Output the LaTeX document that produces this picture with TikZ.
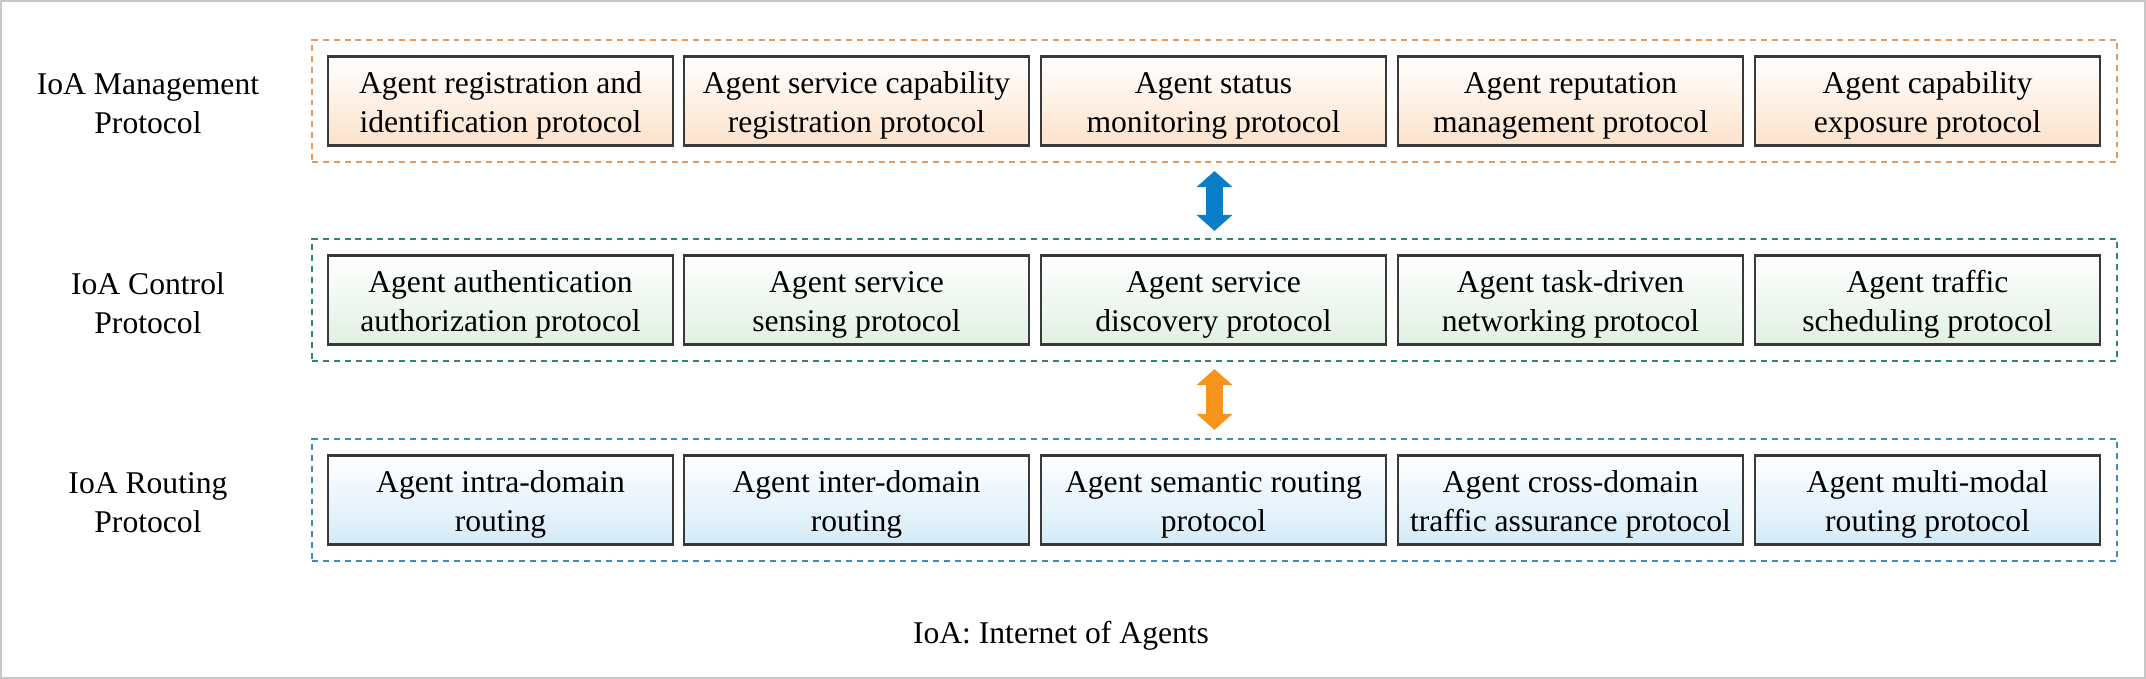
\documentclass[tikz,border=0pt]{standalone}
\usepackage{fontspec}
\setmainfont{Liberation Serif}
\usepackage{xcolor}
\usepackage{tikz}
\usetikzlibrary{arrows.meta}
\definecolor{frame}{HTML}{C8C8C8}
\definecolor{boxline}{HTML}{3A3A3A}
\definecolor{mgmtline}{HTML}{E99A5A}
\definecolor{ctrlline}{HTML}{2A8C66}
\definecolor{routline}{HTML}{3A8FB8}
\definecolor{mgmtfill}{HTML}{FCE2CB}
\definecolor{ctrlfill}{HTML}{E1F0E3}
\definecolor{routfill}{HTML}{D4EBF8}
\definecolor{arrowblue}{HTML}{0A7EC8}
\definecolor{arroworange}{HTML}{F7941D}
\newcommand{\ioafont}{\fontsize{9pt}{11pt}\selectfont}
\tikzset{
  box/.style={draw=boxline, line width=0.6pt, minimum width=3.45cm, minimum height=0.89cm, inner sep=0pt, align=center, font=\ioafont, text height=19pt, text depth=1pt},
  mgmtbox/.style={box, top color=white, bottom color=mgmtfill},
  ctrlbox/.style={box, top color=white, bottom color=ctrlfill},
  routbox/.style={box, top color=white, bottom color=routfill},
  layer/.style={line width=0.6pt, dash pattern=on 1.7pt off 1.4pt, minimum width=18.05cm, minimum height=1.22cm, inner sep=0pt},
  lab/.style={align=center, font=\ioafont},
  updown/.style={line width=1.7mm, {Triangle[length=1.6mm,width=3.5mm]}-{Triangle[length=1.6mm,width=3.5mm]}},
}

\begin{document}
\begin{tikzpicture}
\useasboundingbox (0,0) rectangle (21.46,6.79);
\draw[frame, line width=0.6pt] (0.01,0.01) rectangle (21.45,6.78);

% layers
\node[layer, draw=mgmtline] (mgmt) at (12.145,5.78) {};
\node[layer, draw=ctrlline] (ctrl) at (12.145,3.79) {};
\node[layer, draw=routline] (rout) at (12.145,1.79) {};

% layer names
\node[lab] (mgmtlab) at (1.48,5.75) {IoA Management\\Protocol};
\node[lab] (ctrllab) at (1.48,3.76) {IoA Control\\Protocol};
\node[lab] (routlab) at (1.48,1.76) {IoA Routing\\Protocol};

% management protocols
\node[mgmtbox] (m1) at (5.005,5.78) {Agent registration and\\identification protocol};
\node[mgmtbox] (m2) at (8.565,5.78) {Agent service capability\\registration protocol};
\node[mgmtbox] (m3) at (12.135,5.78) {Agent status\\monitoring protocol};
\node[mgmtbox] (m4) at (15.705,5.78) {Agent reputation\\management protocol};
\node[mgmtbox] (m5) at (19.275,5.78) {Agent capability\\exposure protocol};

% control protocols
\node[ctrlbox] (c1) at (5.005,3.79) {Agent authentication\\authorization protocol};
\node[ctrlbox] (c2) at (8.565,3.79) {Agent service\\sensing protocol};
\node[ctrlbox] (c3) at (12.135,3.79) {Agent service\\discovery protocol};
\node[ctrlbox] (c4) at (15.705,3.79) {Agent task-driven\\networking protocol};
\node[ctrlbox] (c5) at (19.275,3.79) {Agent traffic\\scheduling protocol};

% routing protocols
\node[routbox] (r1) at (5.005,1.79) {Agent intra-domain\\routing};
\node[routbox] (r2) at (8.565,1.79) {Agent inter-domain\\routing};
\node[routbox] (r3) at (12.135,1.79) {Agent semantic routing\\protocol};
\node[routbox] (r4) at (15.705,1.79) {Agent cross-domain\\traffic assurance protocol};
\node[routbox] (r5) at (19.275,1.79) {Agent multi-modal\\routing protocol};

% interactions between layers
\draw[updown, draw=arrowblue] ([yshift=-0.08cm]mgmt.south) -- ([yshift=0.07cm]ctrl.north);
\draw[updown, draw=arroworange] ([yshift=-0.07cm]ctrl.south) -- ([yshift=0.08cm]rout.north);

\node[lab] (note) at (10.61,0.43) {IoA: Internet of Agents};
\end{tikzpicture}
\end{document}
